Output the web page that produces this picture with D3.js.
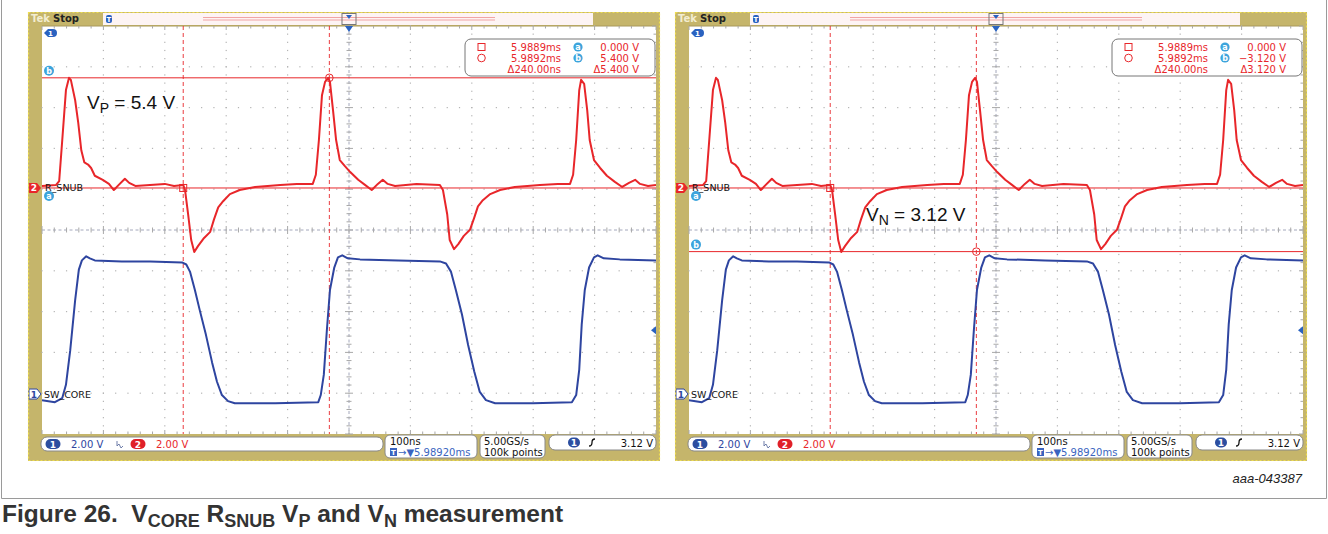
<!DOCTYPE html>
<html>
<head>
<meta charset="utf-8">
<script src="https://cdn.jsdelivr.net/npm/d3@7"></script>
<style>
  body { margin: 0; background: #fff; }
  svg { display: block; }
</style>
</head>
<body>
<svg id="chart" width="1328" height="534"></svg>
<script>
// R_SNUB (ch2) trace: [ns from trigger, volts]
const rsnubTrace = [
  [-500, 0.1], [-477, 0.15], [-472, 0.34], [-467, 2.35], [-461, 4.8], [-456, 5.4], [-453, 5.3],
  [-446, 4.3], [-441, 3.2], [-436, 1.85], [-431, 1.25], [-425, 1.15], [-420, 0.98], [-414, 0.6],
  [-401, 0.4], [-391, 0.2], [-383, -0.1], [-375, 0.15], [-365, 0.45], [-358, 0.25], [-348, 0.1],
  [-324, 0.15], [-300, 0.2], [-285, 0.1], [-270, 0.15], [-267, -0.1], [-262, -1.3], [-257, -2.55],
  [-252, -3.14], [-246, -2.85], [-236, -2.45], [-226, -2.15], [-220, -1.55], [-213, -0.95],
  [-205, -0.65], [-194, -0.3], [-178, -0.1], [-153, 0.05], [-112, 0.15], [-85, 0.2], [-59, 0.2],
  [-54, 0.65], [-49, 2.35], [-44, 4.55], [-39, 5.2], [-34, 5.4], [-31, 5.2], [-26, 3.8],
  [-21, 2.35], [-15, 1.37], [-7, 1.08], [2, 0.78], [15, 0.4], [26, 0.15], [37, -0.1], [47, 0.2],
  [55, 0.4], [63, 0.2], [75, 0.1], [110, 0.2], [148, 0.15], [153, -0.1], [160, -1.3], [164, -2.55],
  [171, -3.0], [178, -2.75], [187, -2.35], [197, -2.05], [204, -1.45], [210, -0.9], [218, -0.6],
  [230, -0.3], [246, -0.1], [270, 0.05], [311, 0.15], [340, 0.2], [360, 0.2], [365, 0.65],
  [370, 2.35], [375, 4.8], [378, 5.3], [383, 5.1], [388, 3.8], [392, 2.35], [399, 1.37],
  [409, 0.98], [420, 0.6], [433, 0.3], [445, 0.05], [456, 0.25], [466, 0.4], [474, 0.2],
  [487, 0.1], [500, 0.15]
];

// SW_CORE (ch1) trace: [ns from trigger, volts]
const swcoreTrace = [
  [-500, -0.3], [-479, -0.4], [-467, -0.2], [-461, 0.45], [-454, 2.15], [-446, 4.6], [-440, 6.1],
  [-435, 6.55], [-428, 6.75], [-422, 6.65], [-414, 6.55], [-370, 6.5], [-324, 6.5], [-272, 6.45],
  [-265, 6.35], [-259, 6.0], [-251, 5.1], [-243, 4.1], [-233, 2.9], [-223, 1.55], [-215, 0.6],
  [-207, -0.05], [-197, -0.35], [-186, -0.45], [-120, -0.45], [-50, -0.4], [-46, -0.05],
  [-41, 0.95], [-36, 3.15], [-31, 5.1], [-24, 6.2], [-18, 6.7], [-11, 6.8], [-2, 6.65], [18, 6.6],
  [80, 6.55], [148, 6.5], [158, 6.4], [166, 6.0], [174, 5.1], [184, 3.9], [194, 2.4], [204, 1.1],
  [213, 0.1], [223, -0.3], [238, -0.45], [300, -0.45], [363, -0.4], [370, -0.05], [375, 1.2],
  [379, 3.4], [384, 5.1], [391, 6.2], [399, 6.7], [405, 6.8], [415, 6.65], [441, 6.6], [500, 6.55]
];

const cursorTimes = [-270, -32];          // square, circle (ns)
const leftCursorVolts = [0, 5.4];         // a, b
const rightCursorVolts = [0, -3.12];
const leftReadout = ["5.9889ms", "0.000 V", "5.9892ms", "5.400 V", "\u0394240.00ns", "\u03945.400 V"];
const rightReadout = ["5.9889ms", "0.000 V", "5.9892ms", "\u22123.120 V", "\u0394240.00ns", "\u03943.120 V"];
const chScales = ["2.00 V", "2.00 V"];
const timebase = ["100ns", "5.98920ms"];
const acquisition = ["5.00GS/s", "100k points"];
const triggerLevel = 3.12;

const svg = d3.select("#chart");
const KHAKI = "#c5b56b", RED = "#e8262a", BLUE = "#2e45a0", CUR = "#3ca4dc";
const UI = "DejaVu Sans, sans-serif";

function pill(g, cx, cy, w, fill, stroke, label, color) {
  g.append("rect").attr("x", cx - w / 2).attr("y", cy - 5).attr("width", w).attr("height", 10)
    .attr("rx", 5).attr("fill", fill).attr("stroke", stroke);
  g.append("text").attr("x", cx).attr("y", cy + 3.5).attr("text-anchor", "middle")
    .style("font", "bold 9px " + UI).attr("fill", color).text(label);
}

function drawScope(x0, cursorVolts, readout, note) {
  const g = svg.append("g").attr("transform", "translate(" + x0 + ",12)");

  const x = d3.scaleLinear().domain([-500, 500]).range([14, 628]);
  const div = d3.scaleLinear().domain([-5, 5]).range([422, 14]);
  const y2 = d3.scaleLinear().domain([-12.06, 7.94]).range([422, 14]);
  const y1 = d3.scaleLinear().domain([-1.96, 18.04]).range([422, 14]);

  // frame
  g.append("rect").attr("width", 632).attr("height", 449).attr("fill", KHAKI);
  g.append("rect").attr("x", 14).attr("y", 14).attr("width", 614).attr("height", 408).attr("fill", "#fff");

  // header
  g.append("rect").attr("x", 75).attr("y", 1).attr("width", 490).attr("height", 12).attr("fill", "#fdf4f4");
  g.append("text").attr("x", 3).attr("y", 10).style("font", "bold 10px " + UI).attr("fill", "#f3edd0").text("Tek");
  g.append("text").attr("x", 25).attr("y", 10).style("font", "bold 10px " + UI).attr("fill", "#222").text("Stop");
  [5.5, 8].forEach(function(yy) {
    g.append("line").attr("x1", 175).attr("x2", 467).attr("y1", yy).attr("y2", yy)
      .attr("stroke", "#f2a4a4").attr("stroke-width", 1.2);
  });
  g.append("rect").attr("x", 314).attr("y", 1.5).attr("width", 14).attr("height", 11)
    .attr("fill", "none").attr("stroke", "#777");
  g.append("path").attr("d", "M318,3 h6 l-3,4 z").attr("fill", "#2a62c0");
  g.append("rect").attr("x", 78).attr("y", 3).attr("width", 6).attr("height", 8).attr("rx", 2).attr("fill", "#2a62c0");
  g.append("text").attr("x", 81).attr("y", 10).attr("text-anchor", "middle")
    .style("font", "bold 7px " + UI).attr("fill", "#fff").text("T");
  g.append("line").attr("x1", 14).attr("x2", 628).attr("y1", 14).attr("y2", 14).attr("stroke", "#a8985a");

  // graticule
  const majorT = d3.range(-500, 501, 100), minorT = d3.range(-500, 501, 20);
  const majorD = d3.range(-5, 6), minorD = d3.range(0, 51).map(function(i) { return -5 + i * 0.2; });
  const grid = g.append("g");
  majorT.filter(function(t) { return t !== -500 && t !== 500 && t !== 0; }).forEach(function(t) {
    minorD.forEach(function(d) {
      grid.append("rect").attr("x", x(t) - 0.6).attr("y", div(d) - 0.6).attr("width", 1.2).attr("height", 1.2).attr("fill", "#b4b4b4");
    });
  });
  majorD.filter(function(d) { return d !== -5 && d !== 5 && d !== 0; }).forEach(function(d) {
    minorT.forEach(function(t) {
      grid.append("rect").attr("x", x(t) - 0.6).attr("y", div(d) - 0.6).attr("width", 1.2).attr("height", 1.2).attr("fill", "#b4b4b4");
    });
  });
  grid.append("line").attr("x1", x(-500)).attr("x2", x(500)).attr("y1", div(0)).attr("y2", div(0))
    .attr("stroke", "#a4a8bc").attr("stroke-dasharray", "3,2.5");
  grid.append("line").attr("x1", x(0)).attr("x2", x(0)).attr("y1", div(5)).attr("y2", div(-5))
    .attr("stroke", "#a4a8bc").attr("stroke-dasharray", "3,2.5");
  minorT.forEach(function(t, i) {
    const len = i % 5 === 0 ? 4 : 2.5;
    grid.append("line").attr("x1", x(t)).attr("x2", x(t)).attr("y1", div(0) - len).attr("y2", div(0) + len).attr("stroke", "#a8a8a8");
    grid.append("line").attr("x1", x(t)).attr("x2", x(t)).attr("y1", 14).attr("y2", 14 + len).attr("stroke", "#a8a8a8");
    grid.append("line").attr("x1", x(t)).attr("x2", x(t)).attr("y1", 422 - len).attr("y2", 422).attr("stroke", "#a8a8a8");
  });
  minorD.forEach(function(d, i) {
    const len = i % 5 === 0 ? 4 : 2.5;
    grid.append("line").attr("y1", div(d)).attr("y2", div(d)).attr("x1", x(0) - len).attr("x2", x(0) + len).attr("stroke", "#a8a8a8");
    grid.append("line").attr("y1", div(d)).attr("y2", div(d)).attr("x1", 628 - len).attr("x2", 628).attr("stroke", "#a8a8a8");
  });

  // cursors
  cursorTimes.forEach(function(t) {
    g.append("line").attr("x1", x(t)).attr("x2", x(t)).attr("y1", 14).attr("y2", 422)
      .attr("stroke", RED).attr("stroke-width", 0.9).attr("stroke-dasharray", "4,3");
  });
  cursorVolts.forEach(function(v) {
    g.append("line").attr("x1", 14).attr("x2", 628).attr("y1", y2(v)).attr("y2", y2(v))
      .attr("stroke", RED).attr("stroke-width", 1);
  });

  // traces
  const clipId = "clip" + x0;
  g.append("clipPath").attr("id", clipId).append("rect").attr("x", 14).attr("y", 14).attr("width", 614).attr("height", 408);
  const traces = g.append("g").attr("clip-path", "url(#" + clipId + ")");
  traces.append("path").datum(swcoreTrace)
    .attr("d", d3.line().x(function(d) { return x(d[0]); }).y(function(d) { return y1(d[1]); }))
    .attr("fill", "none").attr("stroke", BLUE).attr("stroke-width", 2).attr("stroke-linejoin", "round");
  traces.append("path").datum(rsnubTrace)
    .attr("d", d3.line().x(function(d) { return x(d[0]); }).y(function(d) { return y2(d[1]); }))
    .attr("fill", "none").attr("stroke", RED).attr("stroke-width", 2).attr("stroke-linejoin", "round");

  // cursor markers on the crossings
  g.append("rect").attr("x", x(cursorTimes[0]) - 3.5).attr("y", y2(cursorVolts[0]) - 3.5)
    .attr("width", 7).attr("height", 7).attr("fill", "none").attr("stroke", RED);
  g.append("circle").attr("cx", x(cursorTimes[1])).attr("cy", y2(cursorVolts[1])).attr("r", 3.8)
    .attr("fill", "none").attr("stroke", RED);

  // channel labels / markers
  g.append("text").attr("x", 17).attr("y", y2(0) + 3.5).style("font", "9.5px " + UI).attr("fill", "#111").text("R_SNUB");
  g.append("text").attr("x", 16).attr("y", y1(0) + 3.5).style("font", "9.5px " + UI).attr("fill", "#111").text("SW_CORE");
  g.append("path").attr("d", "M1," + (y2(0) - 5) + " h8 l4,5 l-4,5 h-8 z").attr("fill", RED);
  g.append("text").attr("x", 6).attr("y", y2(0) + 3.5).attr("text-anchor", "middle")
    .style("font", "bold 9px " + UI).attr("fill", "#fff").text("2");
  g.append("path").attr("d", "M1," + (y1(0) - 5) + " h8 l4,5 l-4,5 h-8 z").attr("fill", "#fff").attr("stroke", BLUE);
  g.append("text").attr("x", 6).attr("y", y1(0) + 3.5).attr("text-anchor", "middle")
    .style("font", "bold 9px " + UI).attr("fill", BLUE).text("1");
  ["a", "b"].forEach(function(lbl, i) {
    const cy = i === 0 ? y2(cursorVolts[0]) + 8 : y2(cursorVolts[1]) - 7;
    g.append("circle").attr("cx", 21).attr("cy", cy).attr("r", 5).attr("fill", CUR);
    g.append("text").attr("x", 21).attr("y", cy + 3).attr("text-anchor", "middle")
      .style("font", "bold 8px " + UI).attr("fill", "#fff").text(lbl);
  });
  g.append("path").attr("d", "M16,21 l4,-4 h5 a4,4 0 0 1 0,8 h-5 z").attr("fill", "#2a62c0");
  g.append("text").attr("x", 22.5).attr("y", 24).attr("text-anchor", "middle")
    .style("font", "bold 7px " + UI).attr("fill", "#fff").text("1");
  g.append("path").attr("d", "M" + (x(0) - 4) + ",14 h8 l-4,6 z").attr("fill", "#2a62c0");
  g.append("path").attr("d", "M628," + (y1(triggerLevel) - 4) + " v8 l-5,-4 z").attr("fill", "#2a62c0");

  // measured value annotation
  const ann = g.append("text").attr("x", note.x).attr("y", note.y)
    .style("font", "19px Liberation Sans, Arial, sans-serif").attr("fill", "#111");
  ann.append("tspan").text("V");
  ann.append("tspan").attr("dy", 4).style("font-size", "14px").text(note.sub);
  ann.append("tspan").attr("dy", -4).text(" = " + note.value);

  // cursor readout box
  const rb = g.append("g");
  rb.append("rect").attr("x", 437).attr("y", 27).attr("width", 190).attr("height", 37).attr("rx", 6)
    .attr("fill", "#fff").attr("stroke", "#777");
  rb.append("rect").attr("x", 450).attr("y", 31.5).attr("width", 7).attr("height", 7).attr("fill", "none").attr("stroke", RED);
  rb.append("circle").attr("cx", 453.5).attr("cy", 46).attr("r", 3.8).attr("fill", "none").attr("stroke", RED);
  const rows = [38.5, 49.5, 60.5];
  [[0, 1], [2, 3], [4, 5]].forEach(function(pair, r) {
    rb.append("text").attr("x", 533).attr("y", rows[r]).attr("text-anchor", "end")
      .style("font", "10px " + UI).attr("fill", RED).text(readout[pair[0]]);
    rb.append("text").attr("x", 611).attr("y", rows[r]).attr("text-anchor", "end")
      .style("font", "10px " + UI).attr("fill", RED).text(readout[pair[1]]);
  });
  ["a", "b"].forEach(function(lbl, i) {
    rb.append("circle").attr("cx", 550).attr("cy", rows[i] - 3.5).attr("r", 4.6).attr("fill", CUR);
    rb.append("text").attr("x", 550).attr("y", rows[i] - 0.8).attr("text-anchor", "middle")
      .style("font", "bold 8px " + UI).attr("fill", "#fff").text(lbl);
  });

  // bottom status bar
  const sb = g.append("g");
  sb.append("rect").attr("x", 13).attr("y", 425).attr("width", 342).attr("height", 14).attr("rx", 6).attr("fill", "#fff").attr("stroke", "#888");
  pill(sb, 25, 432, 15, "#2c4ea0", "none", "1", "#fff");
  sb.append("text").attr("x", 43).attr("y", 435.5).style("font", "10px " + UI).attr("fill", BLUE).text(chScales[0]);
  sb.append("path").attr("d", "M89,429 v5 l2,-2 l2,4 l2,-2").attr("fill", "none").attr("stroke", "#6070a0").attr("stroke-width", 0.9);
  pill(sb, 110, 432, 15, "#e02028", "none", "2", "#fff");
  sb.append("text").attr("x", 128).attr("y", 435.5).style("font", "10px " + UI).attr("fill", RED).text(chScales[1]);

  sb.append("rect").attr("x", 357).attr("y", 423).attr("width", 92).attr("height", 23).attr("rx", 5).attr("fill", "#fff").attr("stroke", "#888");
  sb.append("text").attr("x", 362).attr("y", 433).style("font", "10px " + UI).attr("fill", "#111").text(timebase[0]);
  sb.append("rect").attr("x", 362).attr("y", 436).attr("width", 7).attr("height", 8).attr("fill", "#3a64c0");
  sb.append("text").attr("x", 365.5).attr("y", 443).attr("text-anchor", "middle").style("font", "bold 7px " + UI).attr("fill", "#fff").text("T");
  sb.append("text").attr("x", 370).attr("y", 444).style("font", "10px " + UI).attr("fill", "#3a64c0").text("\u2192\u25BC" + timebase[1]);

  sb.append("rect").attr("x", 452).attr("y", 423).attr("width", 65).attr("height", 23).attr("rx", 5).attr("fill", "#fff").attr("stroke", "#888");
  sb.append("text").attr("x", 456).attr("y", 433).style("font", "10px " + UI).attr("fill", "#111").text(acquisition[0]);
  sb.append("text").attr("x", 456).attr("y", 444).style("font", "10px " + UI).attr("fill", "#111").text(acquisition[1]);

  sb.append("rect").attr("x", 521).attr("y", 423).attr("width", 107).attr("height", 15).attr("rx", 6).attr("fill", "#fff").attr("stroke", "#888");
  pill(sb, 546, 430.5, 12, "#2c4ea0", "none", "1", "#fff");
  sb.append("path").attr("d", "M561,434 q3,0 3,-3.5 q0,-3.5 3,-3.5").attr("fill", "none").attr("stroke", "#111").attr("stroke-width", 1.3);
  sb.append("text").attr("x", 625).attr("y", 434.5).attr("text-anchor", "end").style("font", "10px " + UI).attr("fill", "#111").text(triggerLevel.toFixed(2) + " V");

  // dashed highlight border of the capture
  g.append("rect").attr("x", 0.5).attr("y", 0.5).attr("width", 631).attr("height", 448)
    .attr("fill", "none").attr("stroke", "#eedd50").attr("stroke-width", 1.2).attr("stroke-dasharray", "2,2");
}

drawScope(28, leftCursorVolts, leftReadout, { x: 59, y: 97, sub: "P", value: "5.4 V" });
drawScope(675, rightCursorVolts, rightReadout, { x: 191, y: 209, sub: "N", value: "3.12 V" });

// figure box and caption
svg.append("path").attr("d", "M1.5,0 V498.5 H1326.5 V0").attr("fill", "none").attr("stroke", "#9a9a9a");
svg.append("text").attr("x", 1302).attr("y", 483).attr("text-anchor", "end")
  .style("font", "italic 13px Liberation Sans, Arial, sans-serif").attr("fill", "#222").text("aaa-043387");

const cap = svg.append("text").attr("x", 2).attr("y", 522)
  .style("font", "bold 24.5px Liberation Sans, Arial, sans-serif").attr("fill", "#333");
let shift = 0;
[["Figure 26.\u00a0\u00a0V", "CORE"], [" R", "SNUB"], [" V", "P"], [" and V", "N"], [" measurement", null]]
  .forEach(function(p) {
    cap.append("tspan").attr("dy", -shift).text(p[0]);
    shift = 0;
    if (p[1]) {
      cap.append("tspan").attr("dy", 5).style("font-size", "18px").text(p[1]);
      shift = 5;
    }
  });
</script>
</body>
</html>
